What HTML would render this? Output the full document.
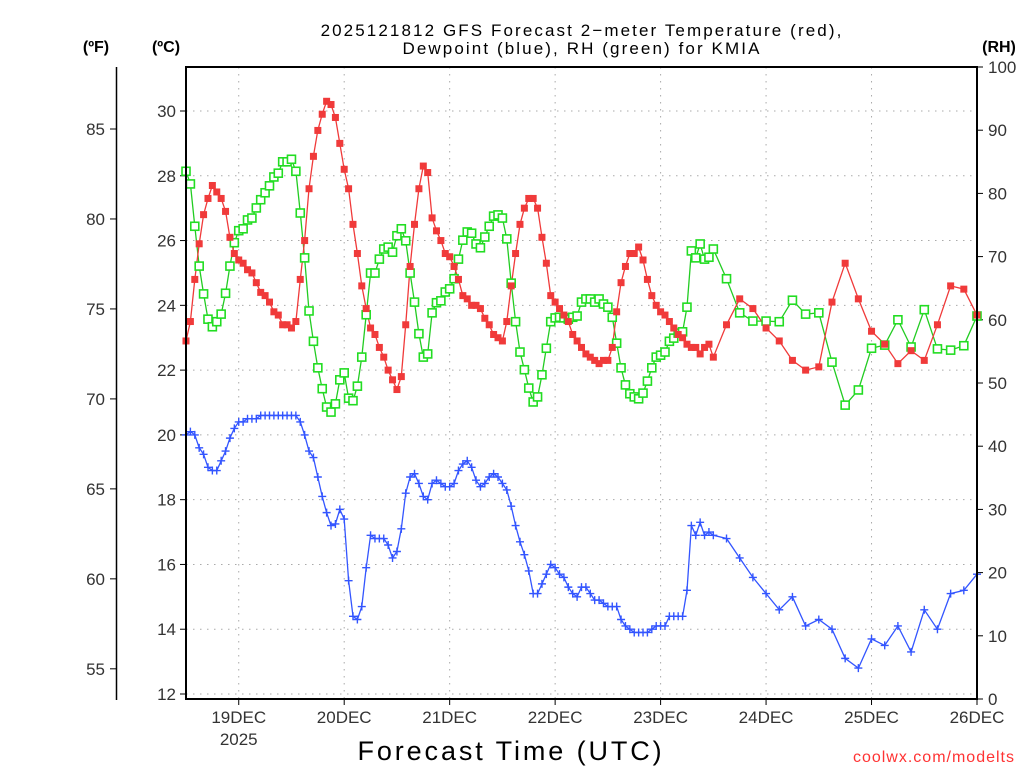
<!DOCTYPE html>
<html><head><meta charset="utf-8"><style>
html,body{margin:0;padding:0;background:#fff;}
svg{display:block;font-family:"Liberation Sans","DejaVu Sans",sans-serif;}
</style></head><body>
<svg id="chart" width="1024" height="768" viewBox="0 0 1024 768" xmlns="http://www.w3.org/2000/svg">
<rect x="0" y="0" width="1024" height="768" fill="#fff"/>
<text x="582" y="36" text-anchor="middle" font-size="17" letter-spacing="2.1" fill="#000">2025121812 GFS Forecast 2−meter Temperature (red),</text>
<text x="582" y="54" text-anchor="middle" font-size="17" letter-spacing="2.1" fill="#000">Dewpoint (blue), RH (green) for KMIA</text>
<text x="96" y="52" text-anchor="middle" font-size="16" font-weight="bold">(ºF)</text>
<text x="166" y="52" text-anchor="middle" font-size="16" font-weight="bold">(ºC)</text>
<text x="999" y="52" text-anchor="middle" font-size="16" font-weight="bold">(RH)</text>
<g id="grid"></g>
<g id="axes"></g>
<g id="series"></g>
<rect x="186" y="67" width="791" height="632" fill="none" stroke="#000" stroke-width="2"/>
<text x="511" y="760" text-anchor="middle" font-size="27" letter-spacing="2.9" fill="#000">Forecast Time (UTC)</text>
<text x="1015" y="762" text-anchor="end" font-size="16" letter-spacing="1" fill="#f33">coolwx.com/modelts</text>
</svg>
<script>
const hours=[0,1,2,3,4,5,6,7,8,9,10,11,12,13,14,15,16,17,18,19,20,21,22,23,24,25,26,27,28,29,30,31,32,33,34,35,36,37,38,39,40,41,42,43,44,45,46,47,48,49,50,51,52,53,54,55,56,57,58,59,60,61,62,63,64,65,66,67,68,69,70,71,72,73,74,75,76,77,78,79,80,81,82,83,84,85,86,87,88,89,90,91,92,93,94,95,96,97,98,99,100,101,102,103,104,105,106,107,108,109,110,111,112,113,114,115,116,117,118,119,120,123,126,129,132,135,138,141,144,147,150,153,156,159,162,165,168,171,174,177,180];
const tempC=[22.9,23.5,24.8,25.9,26.8,27.3,27.7,27.5,27.3,26.9,26.1,25.6,25.4,25.3,25.1,25.0,24.7,24.4,24.3,24.1,23.8,23.7,23.4,23.4,23.3,23.5,24.8,26.0,27.6,28.6,29.4,29.9,30.3,30.2,29.8,29.0,28.2,27.6,26.5,25.6,24.6,23.9,23.3,23.1,22.7,22.4,22.0,21.7,21.4,21.8,23.4,25.2,26.5,27.6,28.3,28.1,26.7,26.3,26.0,25.6,25.5,25.2,24.8,24.3,24.2,24.0,24.0,23.9,23.6,23.4,23.1,23.0,22.9,23.5,24.6,25.6,26.5,27.0,27.3,27.3,27.0,26.1,25.3,24.3,24.1,23.9,23.7,23.5,23.1,22.9,22.7,22.5,22.4,22.3,22.2,22.3,22.3,22.7,23.8,24.7,25.2,25.6,25.6,25.8,25.4,24.8,24.3,24.0,23.8,23.7,23.5,23.3,23.1,23.0,22.8,22.7,22.7,22.5,22.7,22.8,22.4,23.4,24.2,23.9,23.3,22.9,22.3,22.0,22.1,24.1,25.3,24.2,23.2,22.8,22.2,22.6,22.3,23.4,24.6,24.5,23.7];
const dewC=[20.0,20.1,20.0,19.6,19.4,19.0,18.9,18.9,19.2,19.5,19.9,20.2,20.4,20.4,20.5,20.5,20.5,20.6,20.6,20.6,20.6,20.6,20.6,20.6,20.6,20.6,20.4,20.0,19.5,19.3,18.7,18.1,17.6,17.2,17.25,17.7,17.4,15.5,14.4,14.3,14.7,15.9,16.9,16.8,16.8,16.8,16.6,16.2,16.4,17.1,18.2,18.7,18.8,18.5,18.1,18.0,18.5,18.6,18.5,18.4,18.4,18.5,18.9,19.1,19.2,19.0,18.6,18.4,18.5,18.7,18.8,18.7,18.5,18.3,17.8,17.2,16.7,16.3,15.8,15.1,15.1,15.4,15.7,16.0,15.9,15.7,15.6,15.3,15.1,15.0,15.3,15.3,15.1,14.9,14.9,14.8,14.7,14.7,14.7,14.3,14.1,14.0,13.9,13.9,13.9,13.9,14.0,14.1,14.1,14.1,14.4,14.4,14.4,14.4,15.2,17.2,16.9,17.3,16.9,17.0,16.9,16.8,16.2,15.6,15.1,14.6,15.0,14.1,14.3,14.0,13.1,12.8,13.7,13.5,14.1,13.3,14.6,14.0,15.1,15.2,15.7];
const rhPct=[83.5,81.5,74.8,68.5,64.1,60.1,58.9,59.7,60.9,64.2,68.5,72.2,74.1,74.4,75.8,76.1,77.7,79.0,80.1,81.2,82.6,83.2,85.0,85.0,85.4,83.5,76.9,69.8,61.4,56.6,52.4,49.1,46.2,45.4,46.7,50.5,51.6,47.6,47.2,49.5,54.1,60.8,67.4,67.4,69.6,71.2,71.5,70.7,73.3,74.4,72.5,67.4,62.8,57.8,54.1,54.6,61.1,62.7,63.0,64.4,64.9,66.5,69.6,72.6,73.9,73.7,72.0,71.4,73.1,74.8,76.4,76.6,76.1,72.8,65.8,59.7,54.9,52.1,49.2,47.0,47.8,51.3,55.5,59.7,60.3,60.4,60.3,60.1,60.4,60.6,62.8,63.3,63.3,62.8,63.3,62.5,62.0,60.4,56.3,52.4,49.7,48.3,47.8,47.5,48.4,50.3,52.4,54.1,54.4,54.9,56.6,57.1,57.9,58.1,62.0,70.9,69.8,72.0,69.6,69.9,71.2,66.5,61.1,59.8,59.8,59.7,63.1,60.9,61.1,53.3,46.5,48.9,55.5,56.0,60.0,55.7,61.6,55.4,55.2,55.9,60.6];
const dayLabels=["19DEC","20DEC","21DEC","22DEC","23DEC","24DEC","25DEC","26DEC"];
const dayHours=[12,36,60,84,108,132,156,180];
const cTicks=[12,14,16,18,20,22,24,26,28,30];
const fTicks=[55,60,65,70,75,80,85];
const rhTicks=[0,10,20,30,40,50,60,70,80,90,100];

const NS="http://www.w3.org/2000/svg";
const X0=186,X1=977,Y0=67,Y1=699;
function xS(h){return X0+(h/180)*(X1-X0);}
function yC(c){return 694-(c-12)*(583/18);}
function yF(f){return yC((f-32)*5/9);}
function yRH(r){return Y1-(r/100)*(Y1-Y0);}
function mk(tag,attrs,parent){const e=document.createElementNS(NS,tag);for(const k in attrs)e.setAttribute(k,attrs[k]);parent.appendChild(e);return e;}
const grid=document.getElementById('grid'),axes=document.getElementById('axes'),ser=document.getElementById('series');

cTicks.forEach(c=>{
  const y=yC(c);
  const g=mk('line',{x1:X0,x2:X1,y1:y,y2:y,stroke:'#aaa','stroke-width':1,'stroke-dasharray':'1.5,5.5'},grid);
  
  
  const t=mk('line',{x1:X0-6,x2:X0,y1:y,y2:y,stroke:'#000'},axes);
  
  
  const l=mk('text',{x:X0-10,y:y+6,'text-anchor':'end','font-size':17,fill:'#333'},axes);
  l.textContent=c;
  
  
});
const fl=mk('line',{x1:116.5,x2:116.5,y1:Y0,y2:Y1+1,stroke:'#000','stroke-width':1.5},axes);


fTicks.forEach(f=>{
  const y=yF(f);
  const t=mk('line',{x1:110,x2:116,y1:y,y2:y,stroke:'#000'},axes);
  
  
  const l=mk('text',{x:105,y:y+6,'text-anchor':'end','font-size':17,fill:'#333'},axes);
  l.textContent=f;
  
  
});
rhTicks.forEach(r=>{
  const y=yRH(r);
  const t=mk('line',{x1:X1,x2:X1+6,y1:y,y2:y,stroke:'#000'},axes);
  
  
  const l=mk('text',{x:X1+11,y:y+6,'text-anchor':'start','font-size':17,fill:'#333'},axes);
  l.textContent=r;
  
  
});
dayHours.forEach((h,i)=>{
  const x=xS(h);
  if(i<dayHours.length-1){
    const g=mk('line',{x1:x,x2:x,y1:Y0,y2:Y1,stroke:'#aaa','stroke-width':1,'stroke-dasharray':'1.5,5.5'},grid);
    
    
  }
  const t=mk('line',{x1:x,x2:x,y1:Y1,y2:Y1+6,stroke:'#000'},axes);
  
  
  const l=mk('text',{x:x,y:723,'text-anchor':'middle','font-size':17,fill:'#333'},axes);
  l.textContent=dayLabels[i];
  
  
});
const yr=mk('text',{x:xS(12),y:745,'text-anchor':'middle','font-size':17,fill:'#333'},axes);
yr.textContent='2025';



function line(vals,yf,color,name){
  const pts=hours.map((h,i)=>xS(h).toFixed(1)+','+yf(vals[i]).toFixed(1)).join(' ');
  const p=mk('polyline',{points:pts,fill:'none',stroke:color,'stroke-width':1.3},ser);
  
  
}
line(rhPct,yRH,'#22cc22','rh-line');
line(dewC,yC,'#3355ff','dewpoint-line');
line(tempC,yC,'#f03a3a','temperature-line');
hours.forEach((h,i)=>{
  const x=xS(h);
  const y=yRH(rhPct[i]);
  const m=mk('rect',{x:x-4,y:y-4,width:8,height:8,fill:'#fff',stroke:'#22dd22','stroke-width':1.6},ser);
  
  
});
hours.forEach((h,i)=>{
  const x=xS(h),y=yC(dewC[i]);
  const m=mk('path',{d:`M${x-4},${y}H${x+4}M${x},${y-4}V${y+4}`,stroke:'#3355ff','stroke-width':1.4,fill:'none'},ser);
  
  
});
hours.forEach((h,i)=>{
  const x=xS(h),y=yC(tempC[i]);
  const m=mk('rect',{x:x-3.5,y:y-3.5,width:7,height:7,fill:'#f03a3a'},ser);
  
  
});
</script>
</body></html>
